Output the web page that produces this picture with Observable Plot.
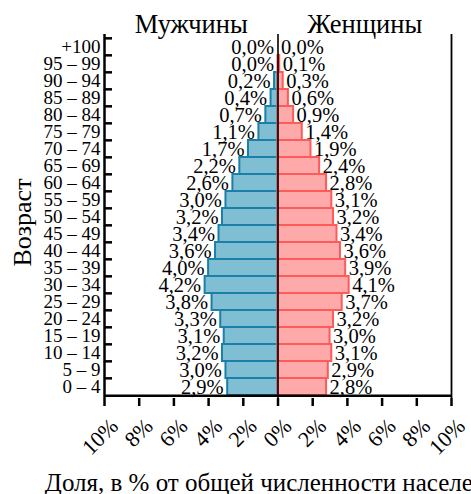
<!DOCTYPE html>
<html>
<head>
<meta charset="utf-8">
<script src="https://cdn.jsdelivr.net/npm/d3@7"></script>
<script src="https://cdn.jsdelivr.net/npm/@observablehq/plot@0.6"></script>
<style>
  html, body { margin: 0; padding: 0; background: #fff; }
  #chart svg, #chart svg text { font-family: "Liberation Serif", "DejaVu Serif", serif !important; }
</style>
</head>
<body>
<div id="chart"></div>
<script>
// Age groups, top to bottom
const ages = ["+100", "95 – 99", "90 – 94", "85 – 89", "80 – 84", "75 – 79", "70 – 74",
  "65 – 69", "60 – 64", "55 – 59", "50 – 54", "45 – 49", "40 – 44", "35 – 39",
  "30 – 34", "25 – 29", "20 – 24", "15 – 19", "10 – 14", "5 – 9", "0 – 4"];
// Share of total population, %
const men =   [0.0, 0.0, 0.2, 0.4, 0.7, 1.1, 1.7, 2.2, 2.6, 3.0, 3.2, 3.4, 3.6, 4.0, 4.2, 3.8, 3.3, 3.1, 3.2, 3.0, 2.9];
const women = [0.0, 0.1, 0.3, 0.6, 0.9, 1.4, 1.9, 2.4, 2.8, 3.1, 3.2, 3.4, 3.6, 3.9, 4.1, 3.7, 3.2, 3.0, 3.1, 2.9, 2.8];
const xTicks = [-10, -8, -6, -4, -2, 0, 2, 4, 6, 8, 10];
const titles = ["Мужчины", "Женщины"];
const titleX = [-5, 5];
const yLabel = "Возраст";
const xLabel = "Доля, в % от общей численности населения";

const W = 471, H = 494;
const mT = 34, mB = 96, mL = 104, mR = 20;
const bw = (H - mT - mB) / ages.length;
const pxPerUnit = (W - mL - mR) / 20;
const tickLen = 8;

const rows = ages.map((a, i) => ({age: a, m: men[i], w: women[i]}));
const fmt = v => v.toFixed(1).replace(".", ",") + "%";

const chart = Plot.plot({
  width: W, height: H,
  marginTop: mT, marginBottom: mB, marginLeft: mL, marginRight: mR,
  style: "background: #fff; color: #000; font-family: 'Liberation Serif', serif;",
  x: {domain: [-10, 10]},
  y: {domain: ages, padding: 0},
  marks: [
    Plot.barX(rows, {y: "age", x1: 0, x2: d => -d.m, fill: "#80bfd3", stroke: "#1a7fa9", strokeWidth: 2}),
    Plot.barX(rows, {y: "age", x1: 0, x2: "w", fill: "#ffaaaa", stroke: "#ff5a5a", strokeWidth: 2}),
    Plot.ruleX([0], {stroke: "#000", strokeWidth: 1.6}),
    Plot.ruleX([-10], {stroke: "#000", strokeWidth: 2.5}),
    Plot.ruleX([10], {stroke: "#000", strokeWidth: 1.8}),
    Plot.ruleY([ages[ages.length - 1]], {dy: bw / 2, stroke: "#000", strokeWidth: 2.5}),
    Plot.ruleY(ages, {y: d => d, dy: -bw / 2, x1: -10, x2: -10 + tickLen / pxPerUnit, stroke: "#000", strokeWidth: 2.5}),
    Plot.text(rows, {y: "age", x: d => -d.m, text: d => fmt(d.m), textAnchor: "end", dx: -4, fontSize: 20.5, fill: "#000"}),
    Plot.text(rows, {y: "age", x: "w", text: d => fmt(d.w), textAnchor: "start", dx: 3, fontSize: 20.5, fill: "#000"}),
    Plot.axisY({tickSize: 0, tickPadding: 4, fontSize: 19, label: null}),
    Plot.axisX(xTicks, {tickSize: tickLen, strokeWidth: 2.5, tickFormat: () => "", label: null}),
    Plot.text(xTicks, {x: d => d, text: d => Math.abs(d) + "%", frameAnchor: "bottom", lineAnchor: "bottom",
      textAnchor: "end", rotate: -45, dx: 15, dy: 29, fontSize: 22, fill: "#000"}),
    Plot.text(titles, {x: (d, i) => titleX[i], text: d => d, frameAnchor: "top", lineAnchor: "bottom", dy: -2, fontSize: 26.5, fill: "#000"}),
    Plot.text([yLabel], {text: d => d, frameAnchor: "left", textAnchor: "middle", lineAnchor: "middle", rotate: -90, dx: -82, dy: 6, fontSize: 26, fill: "#000"}),
    Plot.text([xLabel], {text: d => d, frameAnchor: "bottom", lineAnchor: "bottom", dy: 92, fontSize: 25, fill: "#000"})
  ]
});
document.getElementById("chart").appendChild(chart);
</script>
</body>
</html>
